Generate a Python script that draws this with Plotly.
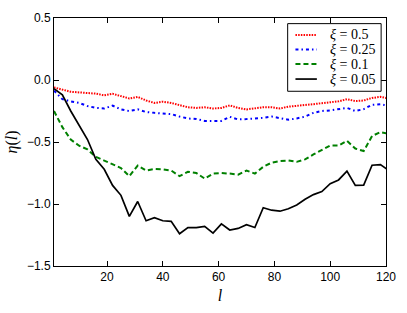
import plotly.graph_objects as go

l_vals = list(range(1, 122, 3))

eta_05 = [-0.06, -0.078, -0.095, -0.10, -0.103, -0.11, -0.124, -0.111, -0.13, -0.149,
          -0.136, -0.165, -0.185, -0.175, -0.185, -0.20, -0.22, -0.225, -0.22, -0.23,
          -0.225, -0.205, -0.225, -0.237, -0.228, -0.22, -0.22, -0.23, -0.215, -0.21,
          -0.20, -0.195, -0.187, -0.18, -0.172, -0.155, -0.17, -0.165, -0.145, -0.136, -0.15]

eta_025 = [-0.086, -0.155, -0.172, -0.185, -0.21, -0.225, -0.23, -0.207, -0.237, -0.25,
           -0.237, -0.258, -0.265, -0.27, -0.275, -0.295, -0.31, -0.315, -0.33, -0.33,
           -0.33, -0.297, -0.318, -0.315, -0.313, -0.305, -0.295, -0.31, -0.32, -0.31,
           -0.295, -0.265, -0.25, -0.245, -0.237, -0.225, -0.25, -0.235, -0.20, -0.195, -0.21]

eta_01 = [-0.25, -0.38, -0.48, -0.53, -0.56, -0.62, -0.65, -0.68, -0.71, -0.775,
          -0.69, -0.73, -0.717, -0.72, -0.73, -0.775, -0.74, -0.75, -0.795, -0.755,
          -0.75, -0.755, -0.763, -0.73, -0.755, -0.70, -0.667, -0.654, -0.649, -0.66,
          -0.64, -0.60, -0.566, -0.528, -0.528, -0.49, -0.553, -0.573, -0.452, -0.42, -0.435]

eta_005 = [-0.07, -0.12, -0.25, -0.36, -0.48, -0.64, -0.72, -0.85, -0.93, -1.10,
           -0.98, -1.135, -1.11, -1.135, -1.14, -1.24, -1.19, -1.19, -1.18, -1.235,
           -1.16, -1.21, -1.197, -1.167, -1.19, -1.03, -1.05, -1.058, -1.038, -1.008,
           -0.962, -0.924, -0.90, -0.836, -0.806, -0.735, -0.85, -0.848, -0.687, -0.682, -0.73]

series_names = ["<i>ξ</i> = 0.5", "<i>ξ</i> = 0.25", "<i>ξ</i> = 0.1", "<i>ξ</i> = 0.05"]
series_values = [eta_05, eta_025, eta_01, eta_005]
series_colors = ["#ff0000", "#0000ff", "#008000", "#000000"]
series_dashes = ["1.5px,1.2px", "3px,3px,1.5px,3px", "5px,3px", "solid"]
series_widths = [2, 2, 2, 1.7]

x_ticks = [20, 40, 60, 80, 100, 120]
y_ticks = [0.5, 0.0, -0.5, -1.0, -1.5]

W, H = 407, 313
ML, MR, MT, MB = 51, 15, 11, 38
PW, PH = W - ML - MR, H - MT - MB


def px_x(p):
    return (p - ML) / PW


def px_y(p):
    return 1 - (p - MT) / PH


serif = "Liberation Serif"

fig = go.Figure()
for name, vals, color, dash, w in zip(series_names, series_values, series_colors,
                                      series_dashes, series_widths):
    fig.add_trace(go.Scatter(x=l_vals, y=vals, mode="lines", name=name,
                             line=dict(color=color, dash=dash, width=w),
                             showlegend=False))

# manual legend (matplotlib-like compact box)
shapes = [dict(type="rect", xref="paper", yref="paper",
               x0=px_x(291), x1=px_x(387), y0=px_y(89), y1=px_y(17),
               line=dict(color="black", width=1), fillcolor="white", layer="above")]
annotations = []
row_y = [29, 44.5, 60, 76]
for name, color, dash, w, ry in zip(series_names, series_colors, series_dashes,
                                    series_widths, row_y):
    shapes.append(dict(type="line", xref="paper", yref="paper",
                       x0=px_x(299), x1=px_x(321), y0=px_y(ry), y1=px_y(ry),
                       line=dict(color=color, dash=dash, width=w), layer="above"))
    annotations.append(dict(xref="paper", yref="paper", x=px_x(332), y=px_y(ry),
                            xanchor="left", yanchor="middle", text=name, showarrow=False,
                            font=dict(family=serif, size=14, color="black")))

axis_common = dict(showline=True, linecolor="black", linewidth=1, mirror="ticks",
                   ticks="inside", ticklen=5, tickwidth=1, tickcolor="black",
                   showgrid=False, zeroline=False,
                   tickfont=dict(family="Liberation Sans", size=12, color="black"))

fig.update_layout(
    width=W, height=H,
    margin=dict(l=ML, r=MR, t=MT, b=MB),
    paper_bgcolor="white", plot_bgcolor="white",
    showlegend=False,
    shapes=shapes, annotations=annotations,
    xaxis=dict(range=[1, 120], tickvals=x_ticks, **axis_common,
               title=dict(text="<i>l</i>", standoff=6,
                          font=dict(family=serif, size=16, color="black"))),
    yaxis=dict(range=[-1.5, 0.5], tickvals=y_ticks, tickformat=".1f", **axis_common,
               title=dict(text="<i>η</i>(<i>l</i>)", standoff=5,
                          font=dict(family=serif, size=16, color="black"))),
)

fig.write_html("out.html", config={"displayModeBar": False},
               post_script="document.body.style.margin='0';document.body.style.padding='0';")
